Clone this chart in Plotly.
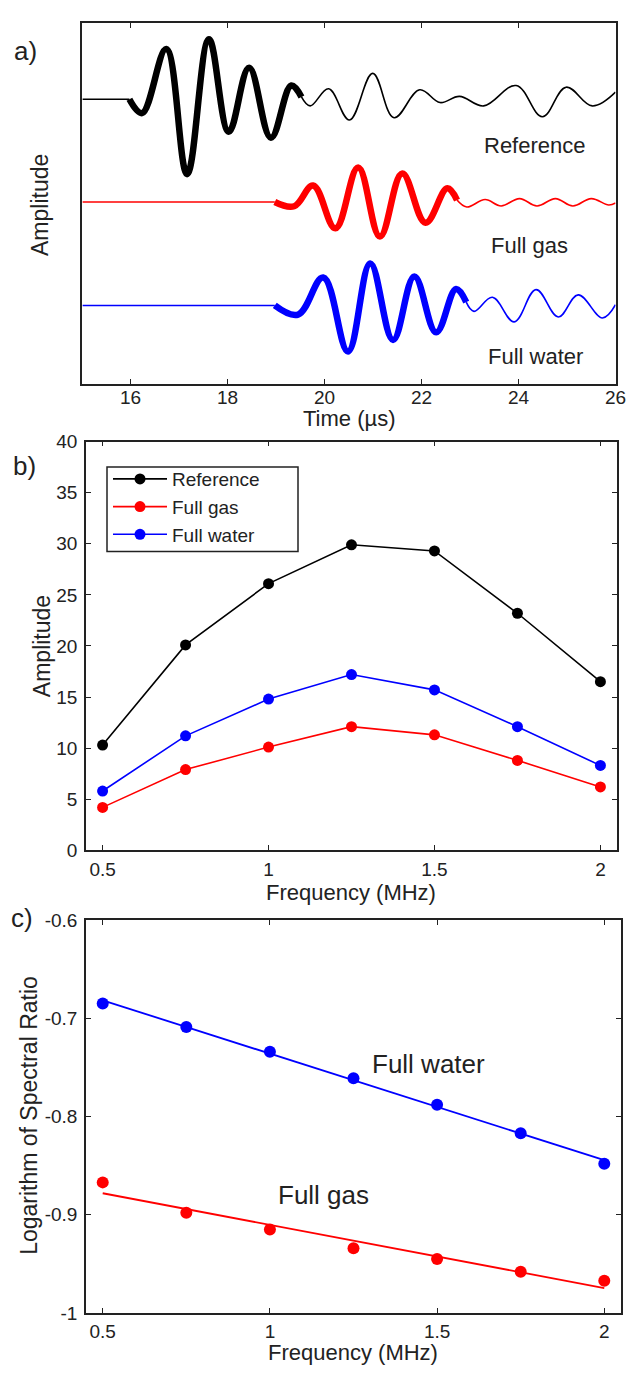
import numpy as np
import plotly.graph_objects as go

W, H = 627, 1377
FONT = "Liberation Sans, Arial, sans-serif"
INK = "#222222"

# ---------------- (a) waveforms: extrema of each trace (time in µs, amplitude a.u.)
ref_start = 15.97
ref_thick_t = [15.97, 16.23, 16.73, 17.16, 17.61, 18.02, 18.44, 18.89, 19.31, 19.52]
ref_thick_a = [0.0, -14.0, 51.0, -76.0, 61.0, -33.0, 32.0, -39.0, 14.0, 2.4]
ref_tail_t = [19.52, 19.70, 20.08, 20.51, 20.99, 21.43, 21.96, 22.38, 22.78, 23.28,
              23.95, 24.49, 24.98, 25.52, 26.0]
ref_tail_a = [2.4, -6.7, 10.7, -21.0, 26.3, -18.7, 9.7, -3.3, 3.0, -6.7,
              14.0, -17.7, 12.3, -6.7, 7.3]

gas_start = 18.97
gas_thick_t = [18.97, 19.37, 19.76, 20.22, 20.69, 21.14, 21.60, 22.08, 22.53, 22.73]
gas_thick_a = [0.0, -4.3, 16.7, -26.7, 35.0, -35.0, 29.0, -21.0, 14.0, 2.0]
gas_tail_t = [22.73, 22.93, 23.31, 23.64, 24.02, 24.38, 24.76, 25.12, 25.50, 25.86, 26.0]
gas_tail_a = [2.0, -5.0, 2.5, -4.0, 3.5, -4.0, 3.5, -4.0, 3.5, -3.0, -1.0]

water_start = 18.97
water_thick_t = [18.97, 19.45, 19.97, 20.48, 20.94, 21.41, 21.85, 22.30, 22.71, 22.92]
water_thick_a = [0.0, -9.3, 28.3, -46.7, 42.7, -35.0, 29.3, -27.3, 16.7, 3.3]
water_tail_t = [22.92, 23.08, 23.46, 23.91, 24.36, 24.82, 25.23, 25.73, 26.0]
water_tail_a = [3.3, -6.0, 8.3, -16.7, 16.0, -11.7, 10.7, -12.7, 0.7]

# vertical placement of the three stacked traces
OFFSET_REF, OFFSET_GAS, OFFSET_WATER = 288.6, 184.3, 79.3

time_ticks = [16, 18, 20, 22, 24, 26]

# ---------------- (b) spectral amplitude
freq = [0.5, 0.75, 1.0, 1.25, 1.5, 1.75, 2.0]
amp_reference = [10.3, 20.1, 26.1, 29.9, 29.3, 23.2, 16.5]
amp_gas = [4.2, 7.9, 10.1, 12.1, 11.3, 8.8, 6.2]
amp_water = [5.8, 11.2, 14.8, 17.2, 15.7, 12.1, 8.3]

# ---------------- (c) logarithm of spectral ratio
logsr_water = [-0.685, -0.709, -0.734, -0.761, -0.788, -0.817, -0.848]
logsr_gas = [-0.867, -0.898, -0.915, -0.934, -0.945, -0.958, -0.967]

c_ticks = [-1.0, -0.9, -0.8, -0.7, -0.6]
c_ticktext = ["-1", "-0.9", "-0.8", "-0.7", "-0.6"]

BLACK, RED, BLUE = "#000000", "#ff0000", "#0000ff"


def px_x(x):
    return x / W


def px_y(y):
    return 1 - y / H


fig = go.Figure()


def waveform(start, thick_t, thick_a, tail_t, tail_a, offset, color):
    # flat lead-in before the first arrival
    fig.add_trace(go.Scatter(x=[15.0, start], y=[offset, offset], mode="lines",
                             line=dict(color=color, width=1.6), showlegend=False,
                             xaxis="x", yaxis="y", hoverinfo="skip"))
    fig.add_trace(go.Scatter(x=thick_t, y=[offset + a for a in thick_a], mode="lines",
                             line=dict(color=color, width=6.5, shape="spline", smoothing=1.1),
                             showlegend=False, xaxis="x", yaxis="y"))
    fig.add_trace(go.Scatter(x=tail_t, y=[offset + a for a in tail_a], mode="lines",
                             line=dict(color=color, width=1.6, shape="spline", smoothing=1.1),
                             showlegend=False, xaxis="x", yaxis="y"))


waveform(ref_start, ref_thick_t, ref_thick_a, ref_tail_t, ref_tail_a, OFFSET_REF, BLACK)
waveform(gas_start, gas_thick_t, gas_thick_a, gas_tail_t, gas_tail_a, OFFSET_GAS, RED)
waveform(water_start, water_thick_t, water_thick_a, water_tail_t, water_tail_a, OFFSET_WATER, BLUE)

# (b)
for name, vals, col in [("Reference", amp_reference, BLACK),
                        ("Full gas", amp_gas, RED),
                        ("Full water", amp_water, BLUE)]:
    fig.add_trace(go.Scatter(x=freq, y=vals, mode="lines+markers", name=name,
                             line=dict(color=col, width=1.6),
                             marker=dict(color=col, size=11),
                             xaxis="x2", yaxis="y2"))

# (c) measured points with least-squares lines
for vals, col in [(logsr_water, BLUE), (logsr_gas, RED)]:
    k, b = np.polyfit(freq, vals, 1)
    fx = [freq[0], freq[-1]]
    fig.add_trace(go.Scatter(x=fx, y=[k * v + b for v in fx], mode="lines",
                             line=dict(color=col, width=1.8), showlegend=False,
                             xaxis="x3", yaxis="y3"))
    fig.add_trace(go.Scatter(x=freq, y=vals, mode="markers",
                             marker=dict(color=col, size=12), showlegend=False,
                             xaxis="x3", yaxis="y3"))

axis_common = dict(showline=True, linecolor=INK, linewidth=1.6, mirror="ticks",
                   showgrid=False, zeroline=False, ticks="inside", ticklen=5,
                   tickwidth=1.3, tickcolor=INK,
                   tickfont=dict(family=FONT, size=19, color=INK))

fig.update_layout(
    width=W, height=H, autosize=False,
    margin=dict(l=0, r=0, t=0, b=0),
    paper_bgcolor="white", plot_bgcolor="white",
    font=dict(family=FONT, color=INK),
    xaxis=dict(axis_common, domain=[px_x(82.4), px_x(615.5)], range=[15, 26],
               tickvals=time_ticks, showticklabels=False, anchor="y"),
    yaxis=dict(axis_common, domain=[px_y(379.3), px_y(13.3)], range=[0, 366],
               showticklabels=False, ticks="", mirror=True, anchor="x"),
    xaxis2=dict(axis_common, domain=[px_x(86), px_x(617)], range=[0.45, 2.05],
                tickvals=[0.5, 1, 1.5, 2], ticktext=["0.5", "1", "1.5", "2"],
                anchor="y2", ticklabelstandoff=1),
    yaxis2=dict(axis_common, domain=[px_y(853.3), px_y(438.3)], range=[0, 40],
                tickvals=list(range(0, 41, 5)), anchor="x2", ticklabelstandoff=3),
    xaxis3=dict(axis_common, domain=[px_x(86), px_x(621)], range=[0.45, 2.05],
                tickvals=[0.5, 1, 1.5, 2], ticktext=["0.5", "1", "1.5", "2"],
                anchor="y3", ticklabelstandoff=0),
    yaxis3=dict(axis_common, domain=[px_y(1323.3), px_y(924)], range=[-1, -0.6],
                tickvals=c_ticks, ticktext=c_ticktext, anchor="x3", ticklabelstandoff=3),
    showlegend=True,
    legend=dict(x=px_x(108), y=px_y(457), xanchor="left", yanchor="top",
                bgcolor="rgba(0,0,0,0)", borderwidth=0,
                font=dict(family=FONT, size=19, color=INK),
                itemwidth=54, tracegroupgap=0),
    shapes=[dict(type="rect", xref="paper", yref="paper",
                 x0=px_x(107), x1=px_x(298), y0=px_y(550), y1=px_y(464),
                 line=dict(color=INK, width=1.5), fillcolor="white", layer="below")],
)

# time tick labels of panel (a), set close under the axis
for t in time_ticks:
    fig.add_annotation(text=str(t), x=t, xref="x", y=px_y(394), yref="paper",
                       showarrow=False, xanchor="center", yanchor="middle",
                       font=dict(family=FONT, size=19, color=INK))


def label(text, x, y, size, angle=0):
    fig.add_annotation(text=text, x=px_x(x), y=px_y(y), xref="paper", yref="paper",
                       showarrow=False, textangle=angle, xanchor="center", yanchor="middle",
                       font=dict(family=FONT, size=size, color=INK))


# panel tags
label("a)", 25, 42, 26)
label("b)", 24, 463, 26)
label("c)", 22, 922, 26)

# axis titles
label("Amplitude", 40, 198, 23, -90)
label("Time (\u00b5s)", 349, 415, 22)
label("Amplitude", 42, 646, 23, -90)
label("Frequency (MHz)", 351, 896, 22)
label("Logarithm of Spectral Ratio", 29, 1123, 23, -90)
label("Frequency (MHz)", 353, 1363, 22)

# curve labels
label("Reference", 535, 138, 22)
label("Full gas", 529, 239, 22)
label("Full water", 535, 352, 22)
label("Full water", 428, 1070, 26)
label("Full gas", 323, 1203, 26)

fig.write_html("out.html", post_script="document.body.style.margin='0';")
